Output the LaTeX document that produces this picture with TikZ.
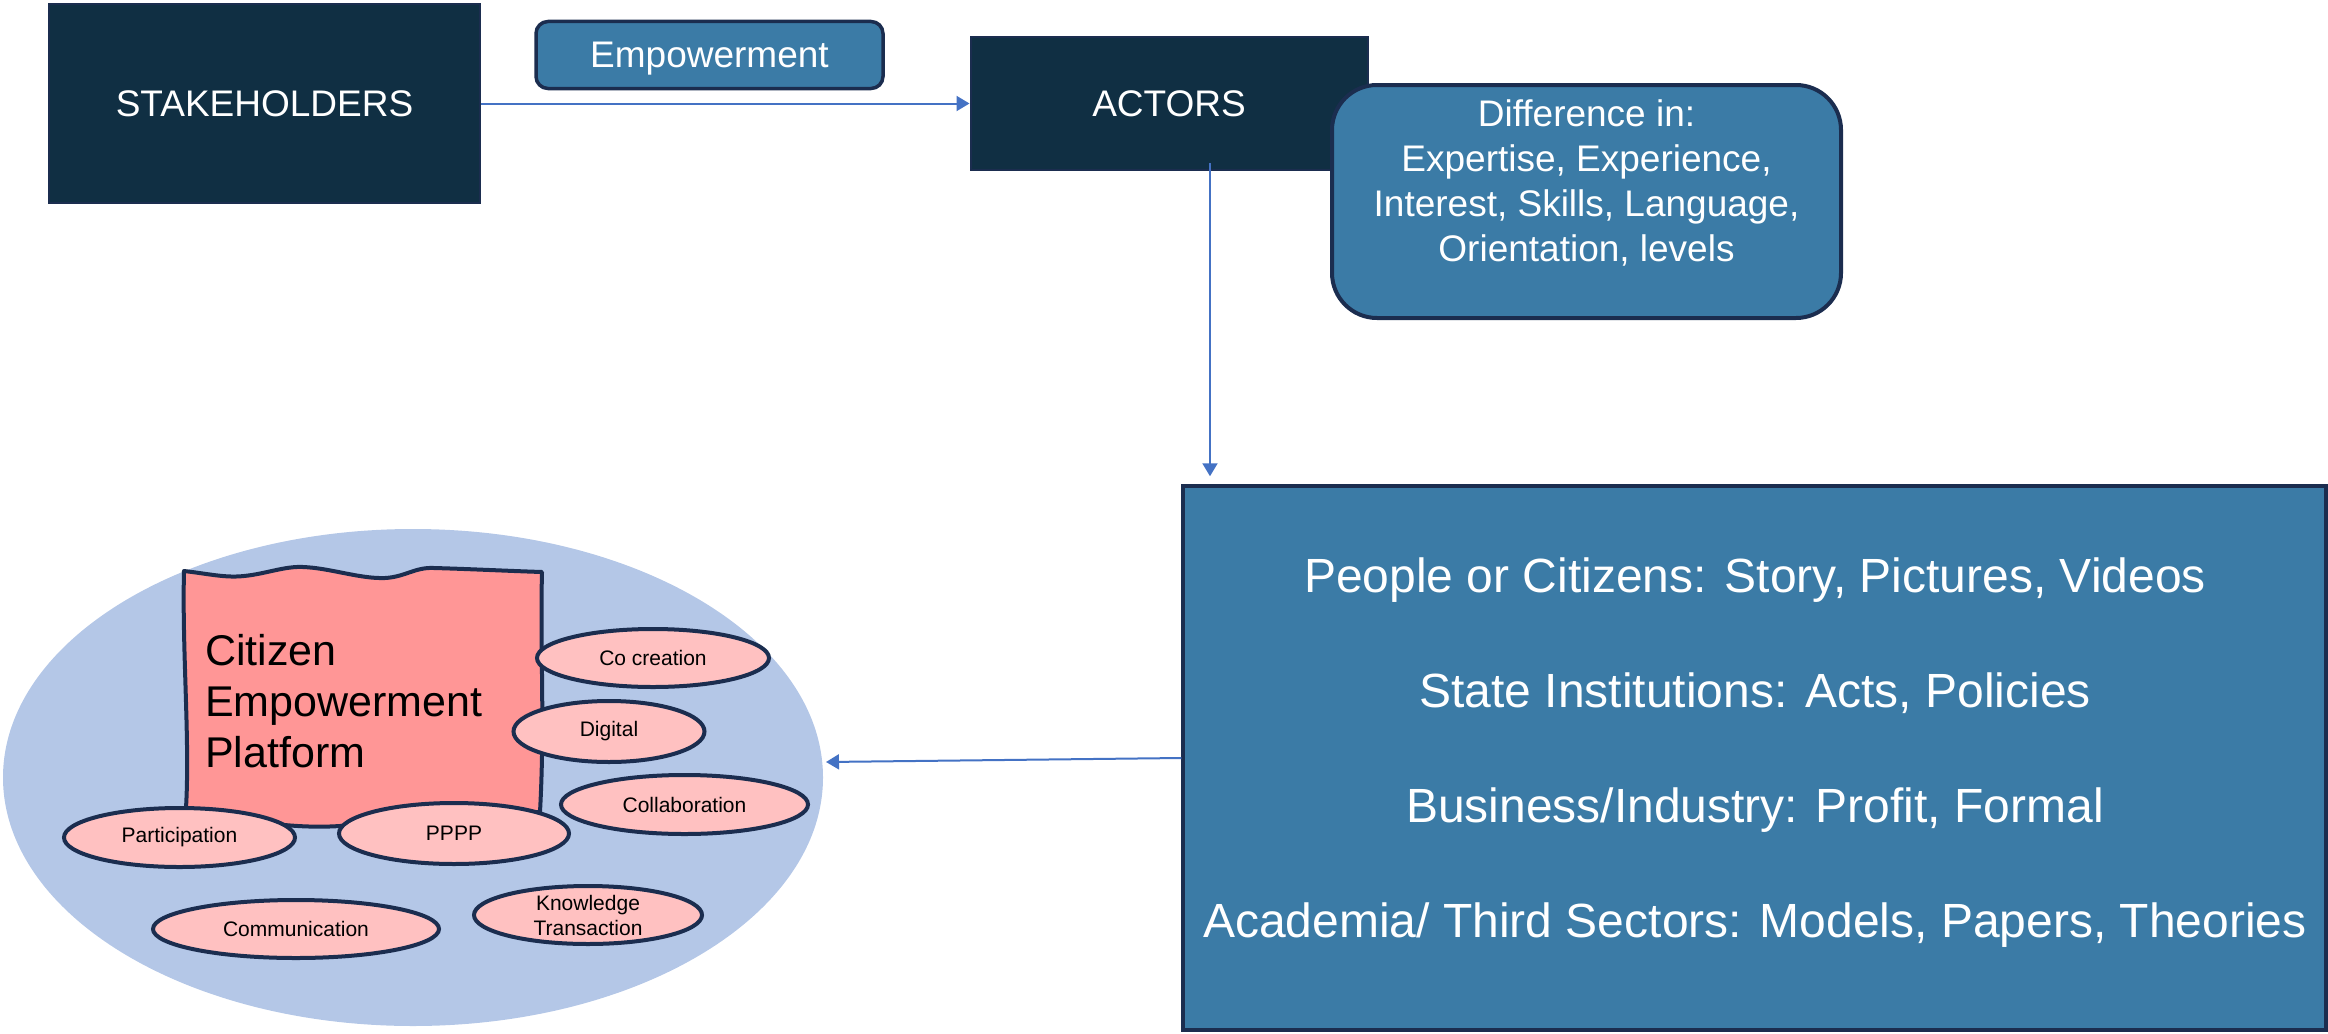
\documentclass[tikz,border=0pt]{standalone}
\usepackage{fontspec}
\setmainfont{Liberation Sans}
\usetikzlibrary{shapes.geometric,arrows.meta}
\definecolor{darkfill}{HTML}{102F43}
\definecolor{navyline}{HTML}{1B2D4F}
\definecolor{midblue}{HTML}{3B7BA6}
\definecolor{arrowblue}{HTML}{4472C4}
\definecolor{lightblue}{HTML}{B4C7E7}
\definecolor{salmon}{HTML}{FF9696}
\definecolor{pinkfill}{HTML}{FFC1C1}
\begin{document}
\begin{tikzpicture}[x=1pt,y=-1pt,
  darkbox/.style={rectangle, fill=darkfill, draw=navyline, line width=2pt, inner sep=0pt, text=white, font=\fontsize{37}{44}\selectfont},
  empbox/.style={rectangle, rounded corners=12pt, fill=midblue, draw=navyline, line width=3.5pt, inner sep=0pt, text=white, text depth=0pt, font=\fontsize{37}{44}\selectfont},
  diffbox/.style={rectangle, rounded corners=45pt, fill=midblue, draw=navyline, line width=4pt, inner sep=0pt},
  bigbox/.style={rectangle, fill=midblue, draw=navyline, line width=3.5pt, inner sep=0pt},
  whitetext/.style={text=white, align=center, inner sep=0pt},
  pill/.style={ellipse, fill=pinkfill, draw=navyline, line width=4pt, inner sep=0pt, align=center, font=\fontsize{21}{25}\selectfont},
  arr/.style={draw=arrowblue, line width=2pt, -{Triangle[length=13pt,width=15pt]}}
]
\useasboundingbox (0,0) rectangle (2328,1033);

% top row
\node[darkbox, minimum width=431pt, minimum height=199pt] (stake) at (264.5,103.5) {STAKEHOLDERS};
\node[empbox, minimum width=347pt, minimum height=67pt] (emp) at (709.5,55) {Empowerment};
\node[darkbox, minimum width=397pt, minimum height=133pt] (actors) at (1169,103.5) {ACTORS};
\node[diffbox, minimum width=509pt, minimum height=233pt] (diff) at (1586.5,201.5) {};
\node[whitetext, font=\fontsize{37}{45}\selectfont] (difftext) at (1586.5,183)
  {Difference in:\\Expertise, Experience,\\Interest, Skills, Language,\\Orientation, levels};

% big box
\node[bigbox, minimum width=1143pt, minimum height=544pt] (big) at (1754.5,758) {};
\node[whitetext, font=\fontsize{48}{115}\selectfont] (bigtext) at (1755,753)
  {People or Citizens: Story, Pictures, Videos\\State Institutions: Acts, Policies\\Business/Industry: Profit, Formal\\Academia/ Third Sectors: Models, Papers, Theories};

% platform ellipse
\node[ellipse, fill=lightblue, inner sep=0pt, minimum width=820pt, minimum height=497pt] (bigell) at (413,777.5) {};

% wavy platform shape
\draw[fill=salmon, draw=navyline, line width=4pt, line join=round]
  (184,571) .. controls (210,574) and (225,578) .. (244,576)
  .. controls (265,574) and (285,566) .. (303,567)
  .. controls (330,568) and (360,579) .. (385,578)
  .. controls (405,577) and (415,567) .. (434,568)
  .. controls (470,569) and (510,571) .. (542,572)
  .. controls (540,650) and (545,720) .. (540,812)
  .. controls (480,815) and (400,817) .. (340,826)
  .. controls (280,830) and (220,815) .. (186,808)
  .. controls (190,740) and (182,650) .. (184,571) -- cycle;
\node[anchor=north west, inner sep=0pt, align=left, font=\fontsize{43}{51}\selectfont] (ceptext) at (205,634)
  {Citizen\\Empowerment\\Platform};

% small ellipses
\node[pill, minimum width=232pt, minimum height=58pt] (cocreation) at (653,658) {Co creation};
\node[pill, minimum width=191pt, minimum height=61pt] (digital) at (609,731.5) {Digital};
\node[pill, minimum width=247pt, minimum height=59pt] (collab) at (684.5,804.5) {Collaboration};
\node[pill, minimum width=231pt, minimum height=59pt] (particip) at (179.5,837.5) {Participation};
\node[pill, minimum width=230pt, minimum height=61pt] (pppp) at (454,833.5) {PPPP};
\node[pill, minimum width=286pt, minimum height=58pt] (comm) at (296,929) {Communication};
\node[pill, minimum width=228pt, minimum height=58pt] (know) at (588,915) {Knowledge\\Transaction};

% connectors
\draw[arr] (stake.east) -- (actors.west);
\draw[arr] ([xshift=41pt,yshift=8pt]actors.south) -- ([xshift=41pt,yshift=8pt]actors.south |- big.north);
\coordinate (ellin) at (826,762);
\draw[arr] (big.west) -- (ellin);
\end{tikzpicture}
\end{document}
